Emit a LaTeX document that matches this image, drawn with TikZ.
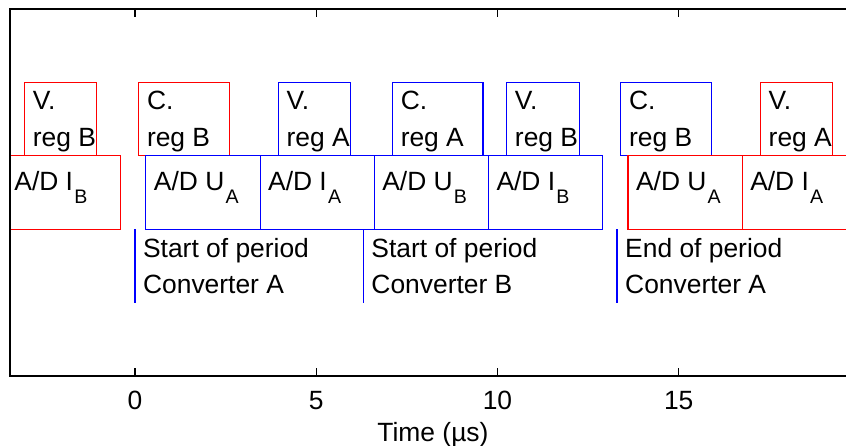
\documentclass[tikz,border=0pt]{standalone}
\usepackage{fontspec}
\setmainfont{Liberation Sans}
\usetikzlibrary{positioning}
\definecolor{TmRed}{RGB}{255,0,0}
\definecolor{TmBlue}{RGB}{0,0,255}
% lowered subscript as in the ADC labels
\newcommand{\adsub}[1]{\kern0.6pt\raisebox{-6.5pt}{\fontsize{9.8}{11}\selectfont #1}}

\begin{document}
\begin{tikzpicture}[x=18.125pt, y=18.35pt,
    box/.style={rectangle, draw, line width=0.55pt, inner sep=0pt, outer sep=0pt,
                minimum height=36.7pt, anchor=south west},
    vreg/.style={box, minimum width=36.25pt},
    creg/.style={box, minimum width=45.31pt},
    adc/.style={box, minimum width=57.09pt},
    lbl/.style={font=\fontsize{13.2}{18.3}\selectfont, inner sep=0pt,
                align=left, anchor=base west},
    tick/.style={font=\fontsize{13.2}{16}\selectfont, inner sep=0pt, anchor=base},
    perline/.style={TmBlue, line width=0.75pt}
  ]
  \clip (-3.724,-1.907) rectangle (19.614,10.245);

  \begin{scope}
    \clip (-3.45,0) rectangle (19.9,10);
    % regulator slots
    \node[vreg, draw=TmRed]  (vrb0) at (-3.05,6) {};
    \node[creg, draw=TmRed]  (crb0) at (0.10,6) {};
    \node[vreg, draw=TmBlue] (vra1) at (3.95,6) {};
    \node[creg, draw=TmBlue] (cra1) at (7.10,6) {};
    \node[vreg, draw=TmBlue] (vrb1) at (10.25,6) {};
    \node[creg, draw=TmBlue] (crb1) at (13.40,6) {};
    \node[vreg, draw=TmRed]  (vra2) at (17.25,6) {};
    % two-line labels sit on their last line, hence the extra drop
    \foreach \n/\s in {vrb0/V.\\reg B, crb0/C.\\reg B, vra1/V.\\reg A, cra1/C.\\reg A,
                       vrb1/V.\\reg B, crb1/C.\\reg B, vra2/V.\\reg A} {
      \node[lbl] (\n-t) at ([xshift=4pt, yshift=-31.9pt]\n.north west) {\s};
    }

    % A/D conversions
    \node[adc, draw=TmRed] (adib0) at (-3.55,4) {};
    \foreach \n/\x in {ua1/0.30, ia1/3.45, ub1/6.60, ib1/9.75} {
      \node[adc, draw=TmBlue] (ad\n) at (\x,4) {};
    }
    \node[adc, draw=TmRed] (adua2) at (13.60,4) {};
    \node[adc, draw=TmRed] (adia2) at (16.75,4) {};
    \foreach \n/\q/\s in {ib0/I/B, ua1/U/A, ia1/I/A, ub1/U/B, ib1/I/B, ua2/U/A, ia2/I/A} {
      \node[lbl] (ad\n-t) at ([xshift=3.85pt, yshift=-17.15pt]ad\n.north west)
            {A/D \q\adsub{\s}};
    }

    % period marks
    \draw[perline] (0,2) -- (0,4) coordinate (sa);
    \draw[perline] (6.3,2) -- (6.3,4) coordinate (sb);
    \draw[perline] (13.3,2) -- (13.3,4) coordinate (ea);
    \node[lbl] (sa-t) at ([xshift=3.85pt, yshift=-32.3pt]sa) {Start of period\\Converter A};
    \node[lbl] (sb-t) at ([xshift=3.85pt, yshift=-32.3pt]sb) {Start of period\\Converter B};
    \node[lbl] (ea-t) at ([xshift=3.85pt, yshift=-32.3pt]ea) {End of period\\Converter A};
  \end{scope}

  % axes
  \draw[line width=0.8pt] (-3.45,0) rectangle (19.9,10);
  \foreach \t in {0,5,10,15} {
    \draw[line width=0.6pt] (\t,0) -- ++(0,4pt);
    \draw[line width=0.6pt] (\t,10) -- ++(0,-4pt);
    \node[tick] (tk\t) at (\t,-0.9) {\t};
  }
  \node[tick] (xlab) at (8.22,-1.79) {Time (µs)};
\end{tikzpicture}
\end{document}
